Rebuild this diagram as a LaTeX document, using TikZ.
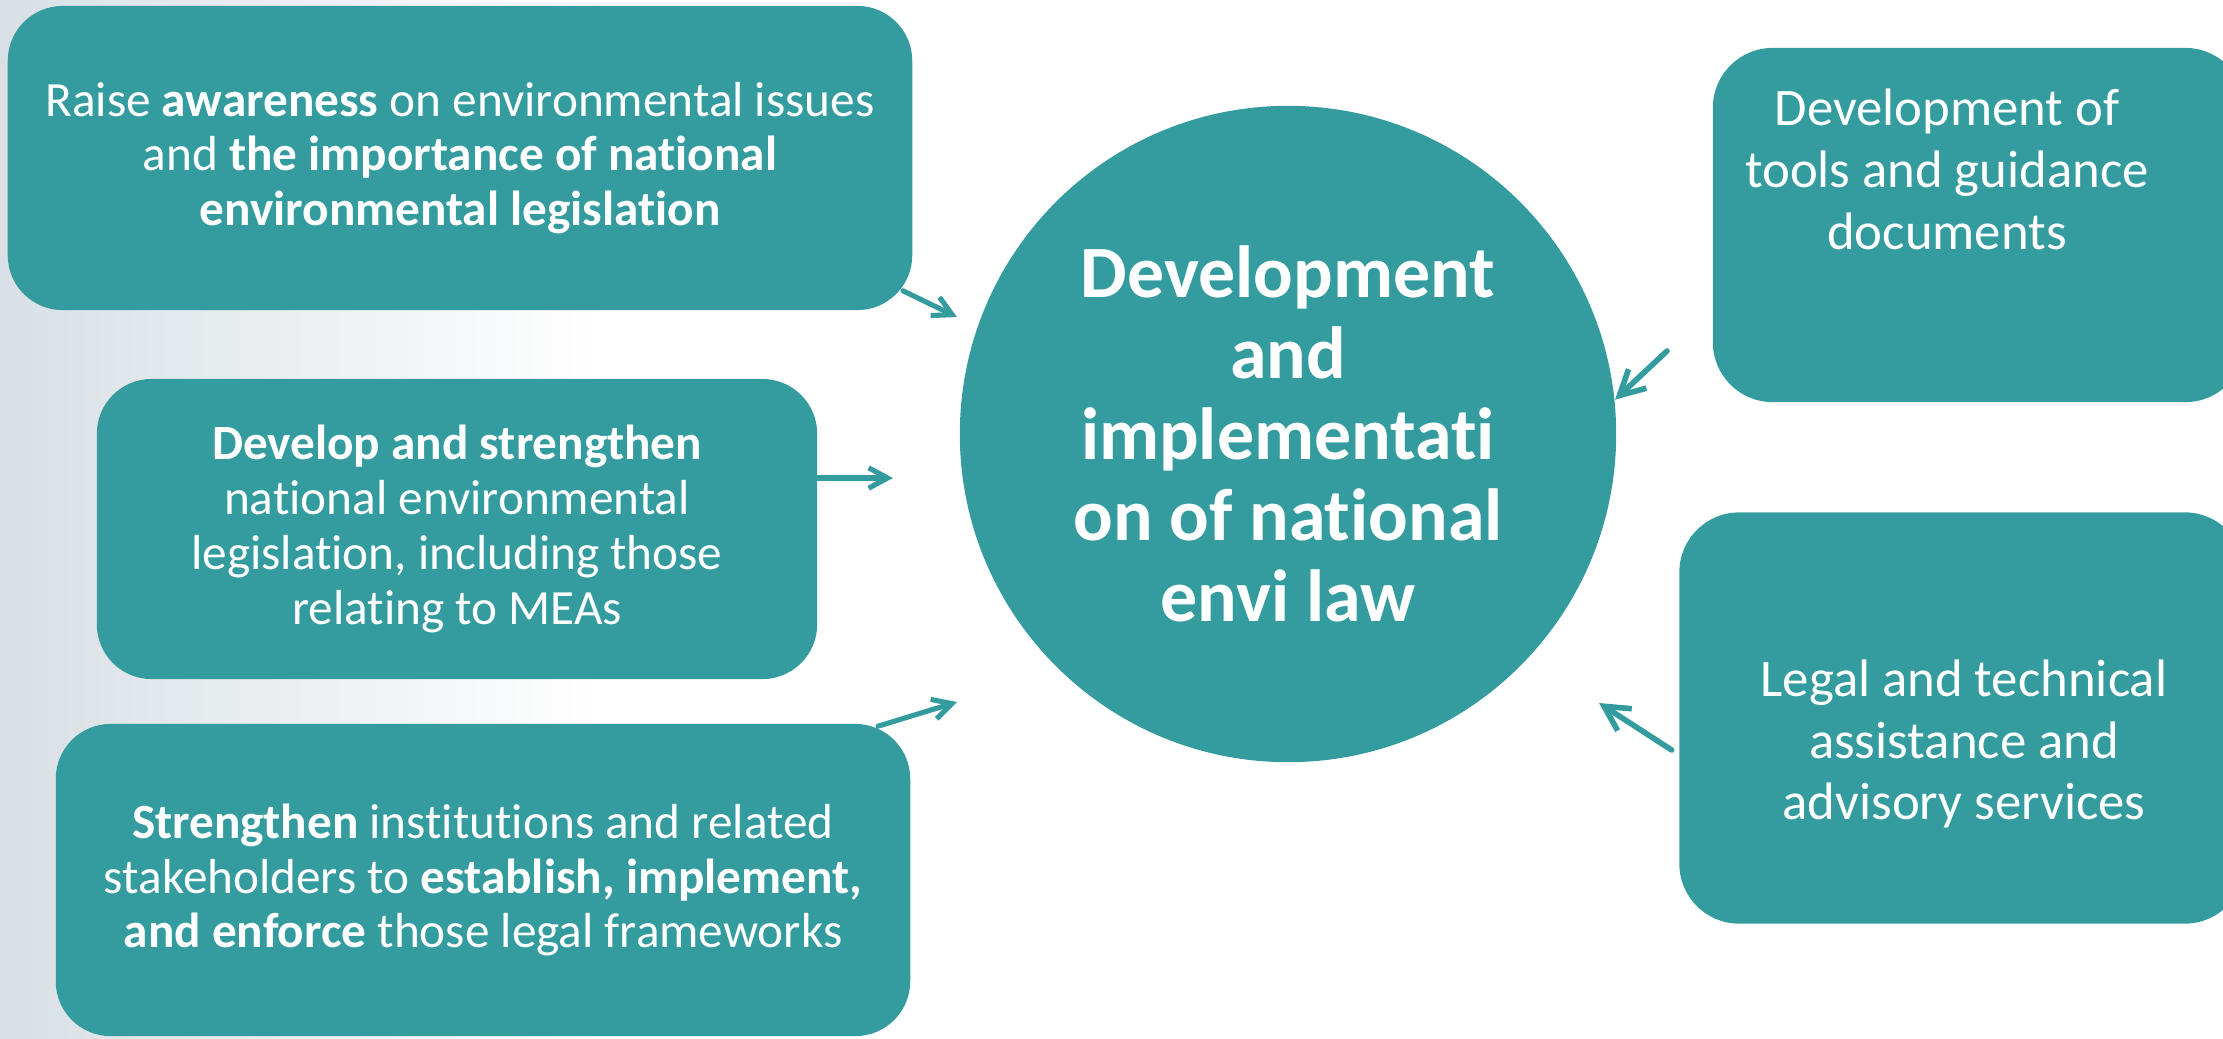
\documentclass[tikz,border=0pt]{standalone}
\usepackage{fontspec}
\setmainfont{Carlito}[Ligatures=NoCommon]
\usepackage{tikz}
\usetikzlibrary{arrows.meta}
\usetikzlibrary{calc}
\usetikzlibrary{positioning}
\definecolor{envteal}{HTML}{349C9E}
\definecolor{envmist}{HTML}{D8E0E5}
\tikzset{
	actbox/.style={fill=envteal, rounded corners=15.6pt, text=white, align=center, font=\fontsize{14}{15.6}\selectfont},
	svcbox/.style={fill=envteal, rounded corners=17pt},
	svctext/.style={text=white, align=center, font=\fontsize{15}{17.6}\selectfont},
	lawcircle/.style={circle, fill=envteal, text=white, align=center, font=\fontsize{21}{23}\selectfont\bfseries},
	flow/.style={envteal, line width=1.45pt, -{Straight Barb[length=5.4pt,width=5.8pt]}},
	bigflow/.style={envteal, line width=1.6pt, -{Straight Barb[length=7pt,width=7.4pt]}}
}

\begin{document}
\begin{tikzpicture}[x=0.01cm,y=-0.01cm,line cap=round,line join=round]
	\useasboundingbox (0,0) rectangle (2223,1038);
	\clip (0,0) rectangle (2223,1038);
	\shade[left color=envmist, right color=white] (0,0) rectangle (600,1038);
	% left column
	\node[actbox, minimum width=9.04cm, minimum height=3.04cm] (aware) at (460,158) {Raise \textbf{awareness} on environmental issues\\ and \textbf{the importance of national}\\ \textbf{environmental legislation}};
	\node[actbox, minimum width=7.2cm, minimum height=3.0cm] (skills) at (457,529) {\textbf{Develop and strengthen}\\ national environmental\\ legislation, including those\\ relating to MEAs};
	\node[actbox, minimum width=8.54cm, minimum height=3.12cm] (inst) at (483,880) {\textbf{Strengthen} institutions and related\\ stakeholders to \textbf{establish, implement,}\\ \textbf{and enforce} those legal frameworks};
	% centre
	\node[lawcircle, minimum size=6.56cm] (law) at (1288,434) {Development\\ and\\ implementati\\ on of national\\ envi law};
	% right column
	\node[svcbox, minimum width=5.32cm, minimum height=3.54cm] (tools) at (1979,225) {};
	\node[svctext] (toolstxt) at (1947,169) {Development of\\ tools and guidance\\ documents};
	\node[svcbox, minimum width=5.65cm, minimum height=4.11cm] (legal) at (1962,718) {};
	\node[svctext] (legaltxt) at (1964,744) {Legal and technical\\ assistance and\\ advisory services};
	% arrows
	\coordinate (t1) at (957,317);
	\coordinate (t2) at (893,478);
	\coordinate (t3) at (957,702);
	\coordinate (s4) at (1667,351);
	\coordinate (t5) at (1599,703);
	\draw[flow] ($(aware.south east)+(-10,-20)$) -- (t1);
	\draw[flow] ($(skills.east)+(0,-51)$) -- (t2);
	\draw[flow] ($(inst.north east)+(-33,3)$) -- (t3);
	\draw[bigflow] (s4) -- (law.6);
	\draw[bigflow] ($(legal.west)+(-7,32)$) -- (t5);
\end{tikzpicture}
\end{document}
